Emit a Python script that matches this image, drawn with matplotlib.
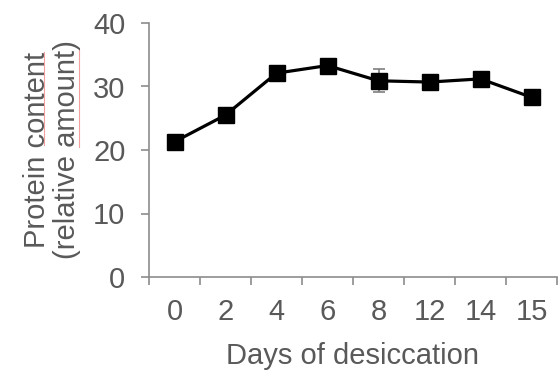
import matplotlib
matplotlib.use("Agg")
import matplotlib.pyplot as plt
from matplotlib.lines import Line2D

days = ["0", "2", "4", "6", "8", "12", "14", "15"]
protein = [21.3, 25.5, 32.1, 33.3, 30.9, 30.7, 31.2, 28.3]
protein_err = [0, 0, 0, 0, 1.8, 0, 0, 0]
y_ticks = [0, 10, 20, 30, 40]

plt.rcParams["font.family"] = ["Liberation Sans", "DejaVu Sans"]
text_color = "#595959"
axis_color = "#8c8c8c"
fs = 21

fig = plt.figure(figsize=(5.58, 3.71), dpi=100)
ax = fig.add_axes([149 / 558, (371 - 277) / 371, (557 - 149) / 558, (277 - 23) / 371])

x = list(range(len(days)))
ax.errorbar(x, protein, yerr=protein_err, fmt="none", ecolor="#7f7f7f",
            elinewidth=1.2, capsize=4.6, capthick=1.2, zorder=2)
ax.plot(x, protein, color="black", linewidth=2.3, marker="s",
        markersize=11, markerfacecolor="black", markeredgecolor="black", zorder=3)

ax.set_xlim(-0.5, len(days) - 0.5)
ax.set_ylim(0, 40)
ax.set_yticks(y_ticks)
ax.set_xticks(x)
ax.set_xticklabels(days)
ax.set_xticks([i - 0.5 for i in range(len(days) + 1)], minor=True)

for side in ("top", "right"):
    ax.spines[side].set_visible(False)
for side in ("left", "bottom"):
    ax.spines[side].set_color(axis_color)
    ax.spines[side].set_linewidth(1.2)

ax.tick_params(axis="y", direction="out", length=6, width=1.2, color=axis_color,
               labelsize=fs, labelcolor=text_color, pad=11)
ax.tick_params(axis="x", which="major", length=0, labelsize=fs,
               labelcolor=text_color, pad=15)
ax.tick_params(axis="x", which="minor", direction="out", length=6, width=1.2,
               color=axis_color)

ax.set_xlabel("Days of desiccation", fontsize=fs, color=text_color, labelpad=11.5)

# two-line axis title on the left
fig.text(52 / 558, 1 - 150 / 371, "Protein content\n(relative amount)", fontsize=fs,
         color=text_color, rotation=90, ha="center", va="center",
         multialignment="center", linespacing=1.12)

# spell-check underlines beneath the axis title
fig.add_artist(Line2D([44 / 558, 44 / 558], [1 - 51.7 / 371, 1 - 145 / 371],
                      color="#f4a0a0", linewidth=0.8))
fig.add_artist(Line2D([79 / 558, 79 / 558], [1 - 50 / 371, 1 - 147 / 371],
                      color="#f4a0a0", linewidth=0.8))

fig.savefig("out.png", dpi=100)
